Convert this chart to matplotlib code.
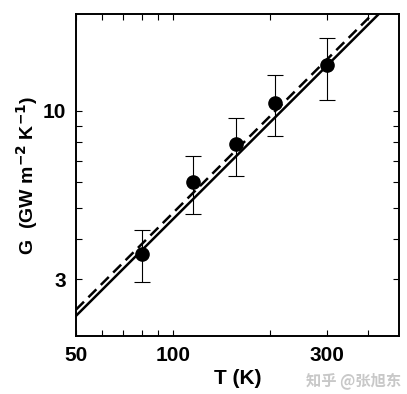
import numpy as np
import matplotlib
matplotlib.use('Agg')
import matplotlib.pyplot as plt
from matplotlib.ticker import FixedLocator, NullFormatter, FixedFormatter

# measured points with error bars
T = [80, 115, 156, 207, 300]
G = [3.59, 6.01, 7.92, 10.6, 13.9]
G_hi = [4.26, 7.27, 9.54, 12.9, 16.8]
G_lo = [2.94, 4.78, 6.27, 8.33, 10.8]

# the two linear fits G = a*T
fit_T = [50, 500]
a_solid = 0.0462
a_dash = 0.0483

xticks = [50, 100, 300]
xticklabels = ['50', '100', '300']
xminor = [60, 70, 80, 90, 200, 400]
yticks = [3, 10]
yticklabels = ['3', '10']
yminor = [4, 5, 6, 7, 8, 9]

plt.rcParams['font.family'] = ['Liberation Sans', 'DejaVu Sans']
plt.rcParams['font.weight'] = 'bold'

fig = plt.figure(figsize=(4.07, 3.94), dpi=100)
ax = fig.add_axes([76/407, 1 - 336/394, (399-76)/407, (336-14)/394])

ax.set_xscale('log')
ax.set_yscale('log')
ax.set_xlim(50, 500)
ax.set_ylim(2, 20)

ft = np.array(fit_T, dtype=float)
ax.plot(ft, a_solid*ft, color='black', lw=1.8)
ax.plot(ft, a_dash*ft, color='black', lw=1.8, dashes=(4.5, 2.5))

err = [np.array(G) - np.array(G_lo), np.array(G_hi) - np.array(G)]
ax.errorbar(T, G, yerr=err, fmt='o', color='black', ms=9.5,
            ecolor='black', elinewidth=0.8, capsize=6, capthick=0.8)

ax.xaxis.set_major_locator(FixedLocator(xticks))
ax.xaxis.set_major_formatter(FixedFormatter(xticklabels))
ax.xaxis.set_minor_locator(FixedLocator(xminor))
ax.xaxis.set_minor_formatter(NullFormatter())
ax.yaxis.set_major_locator(FixedLocator(yticks))
ax.yaxis.set_major_formatter(FixedFormatter(yticklabels))
ax.yaxis.set_minor_locator(FixedLocator(yminor))
ax.yaxis.set_minor_formatter(NullFormatter())

ax.tick_params(which='both', direction='in', top=True, right=True,
               length=4, width=0.8, labelsize=15, pad=7)
for s in ax.spines.values():
    s.set_linewidth(1.4)

ax.set_xlabel('T (K)', fontsize=15, fontweight='bold', labelpad=3)
ax.set_ylabel('G  (GW m$^{\\mathbf{-2}}$ K$^{\\mathbf{-1}}$)', fontsize=14,
              fontweight='bold', labelpad=2)

fig.text(0.985, 0.035, '知乎 @张旭东', ha='right', va='center', fontsize=11,
         color='#c8c8c8', family=['Noto Sans CJK SC', 'DejaVu Sans'])

fig.savefig('out.png', dpi=100)
